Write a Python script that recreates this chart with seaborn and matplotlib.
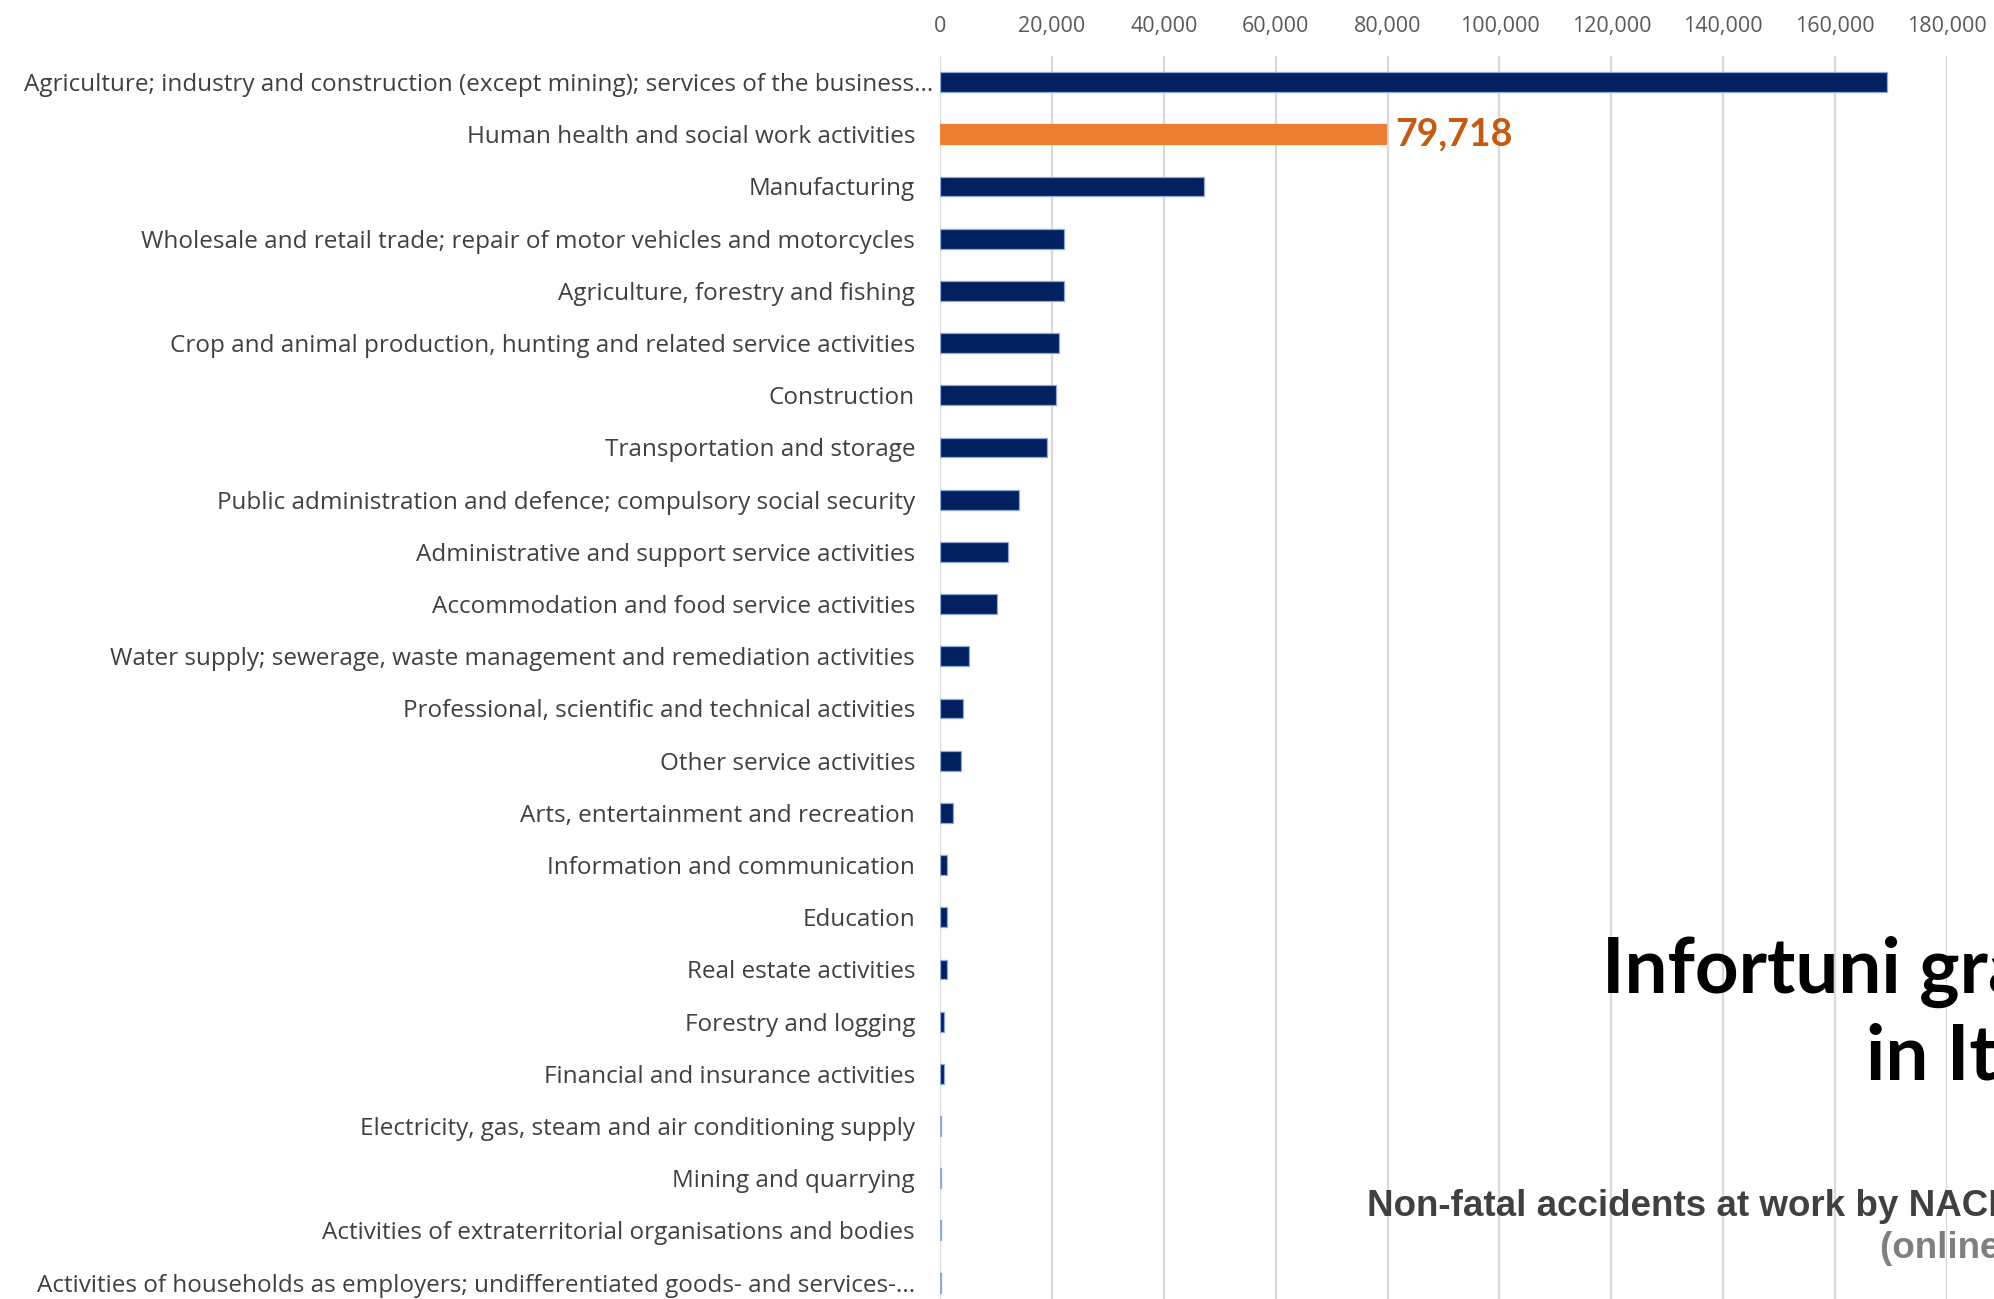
import matplotlib
matplotlib.use("Agg")
import matplotlib.pyplot as plt
import matplotlib.transforms as mtransforms
import seaborn as sns
import pandas as pd
from matplotlib.ticker import FuncFormatter

categories = [
    "Agriculture; industry and construction (except mining); services of the business...",
    "Human health and social work activities",
    "Manufacturing",
    "Wholesale and retail trade; repair of motor vehicles and motorcycles",
    "Agriculture, forestry and fishing",
    "Crop and animal production, hunting and related service activities",
    "Construction",
    "Transportation and storage",
    "Public administration and defence; compulsory social security",
    "Administrative and support service activities",
    "Accommodation and food service activities",
    "Water supply; sewerage, waste management and remediation activities",
    "Professional, scientific and technical activities",
    "Other service activities",
    "Arts, entertainment and recreation",
    "Information and communication",
    "Education",
    "Real estate activities",
    "Forestry and logging",
    "Financial and insurance activities",
    "Electricity, gas, steam and air conditioning supply",
    "Mining and quarrying",
    "Activities of extraterritorial organisations and bodies",
    "Activities of households as employers; undifferentiated goods- and services-...",
]
values = [169300, 79718, 47200, 22200, 22200, 21200, 20700, 19200, 14200, 12200,
          10200, 5200, 4200, 3800, 2300, 1300, 1300, 1300, 800, 800,
          250, 250, 100, 200]
highlight = [c == "Human health and social work activities" for c in categories]
xticks = [0, 20000, 40000, 60000, 80000, 100000, 120000, 140000, 160000, 180000]

df = pd.DataFrame({"category": categories, "value": values,
                   "group": ["hl" if h else "base" for h in highlight]})

sns.set_style("white")
plt.rcParams["font.family"] = ["Open Sans", "DejaVu Sans"]

fig = plt.figure(figsize=(19.94, 12.99), dpi=100)
W, H = 1994, 1299
ax = fig.add_axes([940 / W, 1 - 1308.7 / H, (1947 - 940) / W, (1308.7 - 56) / H])

palette = {"base": "#002060", "hl": "#ED7D31"}
sns.barplot(data=df, y="category", x="value", hue="group", palette=palette,
            order=categories, orient="h", width=0.38, dodge=False, saturation=1,
            legend=False, ax=ax, edgecolor="#8EA9DB", linewidth=0.9, zorder=3)
for bar in ax.patches:
    fc = bar.get_facecolor()
    if abs(fc[0] - 0xED / 255) < 0.02:
        bar.set_edgecolor("#ED7D31")

ax.set_xlim(0, 180000)
ax.set_ylim(len(categories) - 0.5, -0.5)
ax.set_xticks(xticks)
ax.xaxis.set_major_formatter(FuncFormatter(lambda v, p: f"{int(v):,}"))
ax.xaxis.tick_top()
ax.tick_params(axis="x", length=0, pad=14, labelsize=15.5, labelcolor="#595959")
ax.tick_params(axis="y", length=0, pad=18, labelsize=17.5, labelcolor="#404040")
ax.grid(axis="x", color="#D9D9D9", linewidth=1.6, zorder=0)
ax.grid(axis="y", visible=False)
ax.set_axisbelow(True)
for s in ax.spines.values():
    s.set_visible(False)
ax.set_xlabel("")
ax.set_ylabel("")

# first (truncated) label sits a little closer to the axis, as in the reference
first = ax.get_yticklabels()[0]
first.set_transform(first.get_transform() +
                    mtransforms.ScaledTranslation(0.18, 0, fig.dpi_scale_trans))

# data label on highlighted bar
hv = df.loc[df["group"] == "hl", "value"].iloc[0]
hi = df.index[df["group"] == "hl"][0]
ax.annotate(f"{hv:,}", xy=(hv, hi), xytext=(7, 0), textcoords="offset points",
            va="center", ha="left", fontsize=27, fontweight="bold",
            color="#C55A11", zorder=5, family=["Lato", "DejaVu Sans"])

# titles (partly outside the canvas, as in the reference)
fig.text(1602 / W, 1 - 993 / H, "Infortuni gravi", fontsize=55, fontweight="bold",
         color="black", ha="left", va="baseline", family=["Lato", "DejaVu Sans"])
fig.text(1866 / W, 1 - 1080 / H, "in Italia", fontsize=55, fontweight="bold",
         color="black", ha="left", va="baseline", family=["Lato", "DejaVu Sans"])
fig.text(1367 / W, 1 - 1216 / H, "Non-fatal accidents at work by NACE Rev. 2",
         fontsize=26.5, fontweight="bold", color="#404040", ha="left", va="baseline",
         family=["Liberation Sans", "DejaVu Sans"])
fig.text(1880 / W, 1 - 1258 / H, "(online data code: hsw_n2_01)",
         fontsize=26.5, fontweight="bold", color="#7F7F7F", ha="left", va="baseline",
         family=["Liberation Sans", "DejaVu Sans"])

fig.savefig("out.png", dpi=100)
